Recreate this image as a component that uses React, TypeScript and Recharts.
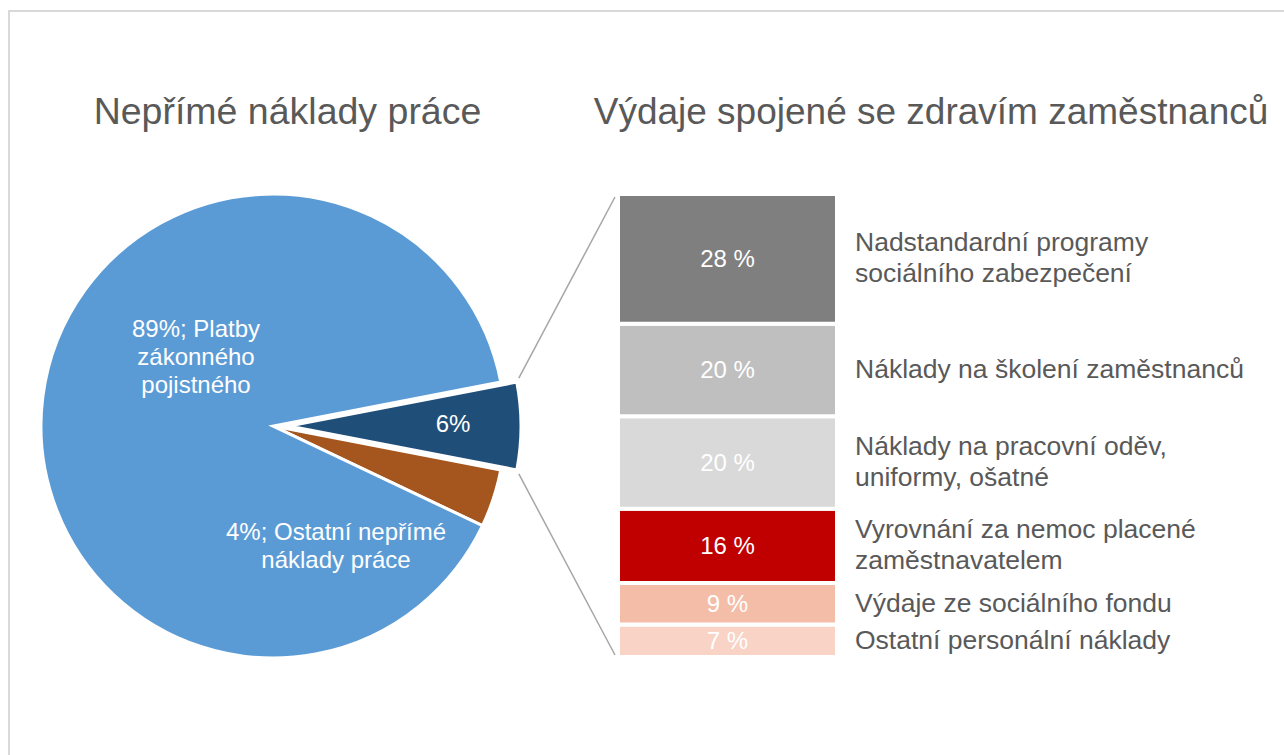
import { PieChart, Pie, Cell, BarChart, Bar, XAxis, YAxis, LabelList } from 'recharts'

const W = 1284
const H = 755
const FONT = '"Liberation Sans", Arial, sans-serif'
const TEXT_GREY = '#595959'

// left pie: the 6 % slice is the one broken out into the bar
const pieNames = ['Výdaje spojené se zdravím zaměstnanců', 'Ostatní nepřímé náklady práce', 'Platby zákonného pojistného']
const pieValues = [6, 4, 89]
const pieColors = ['#1F4E79', '#A5561F', '#5B9BD5']
const pieLabelLines = [['6%'], ['4%; Ostatní nepřímé', 'náklady práce'], ['89%; Platby', 'zákonného', 'pojistného']]

// right stacked bar, listed top to bottom
const barNames = [
  'Nadstandardní programy sociálního zabezpečení',
  'Náklady na školení zaměstnanců',
  'Náklady na pracovní oděv, uniformy, ošatné',
  'Vyrovnání za nemoc placené zaměstnavatelem',
  'Výdaje ze sociálního fondu',
  'Ostatní personální náklady',
]
const barValues = [28, 20, 20, 16, 9, 7]
const barColors = ['#7F7F7F', '#BFBFBF', '#D9D9D9', '#C00000', '#F4BDA8', '#F8D3C6']
const barLegendLines = [
  ['Nadstandardní programy', 'sociálního zabezpečení'],
  ['Náklady na školení zaměstnanců'],
  ['Náklady na pracovní oděv,', 'uniformy, ošatné'],
  ['Vyrovnání za nemoc placené', 'zaměstnavatelem'],
  ['Výdaje ze sociálního fondu'],
  ['Ostatní personální náklady'],
]

// layout
const PIE_CX = 273
const PIE_CY = 426
const PIE_R = 232
const EXPLODE = 16
const BAR_LEFT = 618
const BAR_TOP = 194
const BAR_W = 219
const BAR_H = 463

const pieTotal = pieValues.reduce((a, b) => a + b, 0)
const startAngle = (pieValues[0] / pieTotal) * 360 / 2
const pieData = pieValues.map((v, i) => ({ name: pieNames[i], value: v }))

const barRow: Record<string, any> = { name: 'Výdaje spojené se zdravím zaměstnanců' }
barValues.forEach((v, i) => { barRow['k' + i] = v })
const barData = [barRow]

// label anchors relative to each slice's own centre
const pieLabelOffset = [[164, -3], [63, 119], [-77, -70]]
const PIE_LH = 28

function pieLabel(show: (i: number) => boolean) {
  return (p: any) => {
    if (!show(p.index)) return null
    const [dx, dy] = pieLabelOffset[p.index]
    const lines = pieLabelLines[p.index]
    const x = p.cx + dx
    const y0 = p.cy + dy - (lines.length - 1) * PIE_LH / 2
    return (
      <text key={'pl' + p.index} x={x} y={y0} fill="#fff" fontSize={24} textAnchor="middle" dominantBaseline="central">
        {lines.map((l, i) => <tspan key={i} x={x} dy={i === 0 ? 0 : PIE_LH}>{l}</tspan>)}
      </text>
    )
  }
}

const LEG_LH = 31
function legendLabel(idx: number) {
  return (p: any) => {
    const vb = p.viewBox ?? p
    const top = Math.min(vb.y, vb.y + vb.height)
    const mid = top + Math.abs(vb.height) / 2
    const x = vb.x + vb.width + 18
    const lines = barLegendLines[idx]
    const y0 = mid + 8 - (lines.length - 1) * LEG_LH / 2
    return (
      <text key={'lg' + idx} x={x} y={y0} fill={TEXT_GREY} fontSize={26.5}>
        {lines.map((l, i) => <tspan key={i} x={x} dy={i === 0 ? 0 : LEG_LH}>{l}</tspan>)}
      </text>
    )
  }
}

export default function App() {
  const a = (startAngle * Math.PI) / 180
  const cornerX = PIE_CX + EXPLODE + PIE_R * Math.cos(a)
  const cornerTop = PIE_CY - PIE_R * Math.sin(a)
  const cornerBot = PIE_CY + PIE_R * Math.sin(a)
  const endX = BAR_LEFT - 3

  const layer: React.CSSProperties = { position: 'absolute', left: 0, top: 0 }

  return (
    <div style={{ position: 'relative', width: W, height: H, overflow: 'hidden', fontFamily: FONT, background: '#fff' }}>
      <style>{'body{margin:0;overflow:hidden}'}</style>
      <div style={{ position: 'absolute', left: 8, top: 10, width: W, height: H, borderTop: '2px solid #D9D9D9', borderLeft: '2px solid #D9D9D9', boxSizing: 'border-box' }} />

      <div style={layer}>
        <PieChart width={W} height={H} margin={{ top: 0, right: 0, bottom: 0, left: 0 }}>
          <Pie data={pieData} dataKey="value" nameKey="name" cx={PIE_CX} cy={PIE_CY} outerRadius={PIE_R}
            startAngle={startAngle} endAngle={startAngle - 360} stroke="#fff" strokeWidth={3}
            label={pieLabel(i => i !== 0)} labelLine={false} isAnimationActive={false}>
            {pieData.map((d, i) => (
              <Cell key={d.name} fill={i === 0 ? 'transparent' : pieColors[i]} stroke={i === 0 ? 'none' : '#fff'} />
            ))}
          </Pie>
          <Pie data={pieData} dataKey="value" nameKey="name" cx={PIE_CX + EXPLODE} cy={PIE_CY} outerRadius={PIE_R}
            startAngle={startAngle} endAngle={startAngle - 360} stroke="#fff" strokeWidth={3}
            label={pieLabel(i => i === 0)} labelLine={false} isAnimationActive={false}>
            {pieData.map((d, i) => (
              <Cell key={d.name} fill={i === 0 ? pieColors[0] : 'transparent'} stroke={i === 0 ? '#fff' : 'none'} />
            ))}
          </Pie>
        </PieChart>
      </div>

      <div style={layer}>
        <BarChart width={W} height={H} data={barData} barCategoryGap={0}
          margin={{ top: BAR_TOP, left: BAR_LEFT, right: W - BAR_LEFT - BAR_W, bottom: H - BAR_TOP - BAR_H }}>
          <XAxis dataKey="name" hide />
          <YAxis type="number" domain={[0, 100]} hide />
          {barValues.map((_, k) => {
            const i = barValues.length - 1 - k
            return (
              <Bar key={i} dataKey={'k' + i} name={barNames[i]} stackId="s" fill={barColors[i]}
                stroke="#fff" strokeWidth={4} isAnimationActive={false}>
                <LabelList dataKey={'k' + i} position="center" fill="#fff" fontSize={24}
                  formatter={(v: any) => `${v} %`} />
                <LabelList dataKey={'k' + i} content={legendLabel(i)} />
              </Bar>
            )
          })}
        </BarChart>
      </div>

      <svg width={W} height={H} style={{ ...layer, pointerEvents: 'none' }}>
        <text x={287.5} y={124} fontSize={37.5} fill={TEXT_GREY} textAnchor="middle">Nepřímé náklady práce</text>
        <text x={931} y={124} fontSize={37} fill={TEXT_GREY} textAnchor="middle">Výdaje spojené se zdravím zaměstnanců</text>
        <line x1={cornerX + 2} y1={cornerTop - 4} x2={endX} y2={BAR_TOP + 3} stroke="#A6A6A6" strokeWidth={1.5} />
        <line x1={cornerX + 2} y1={cornerBot + 4} x2={endX} y2={BAR_TOP + BAR_H - 2} stroke="#A6A6A6" strokeWidth={1.5} />
      </svg>
    </div>
  )
}
